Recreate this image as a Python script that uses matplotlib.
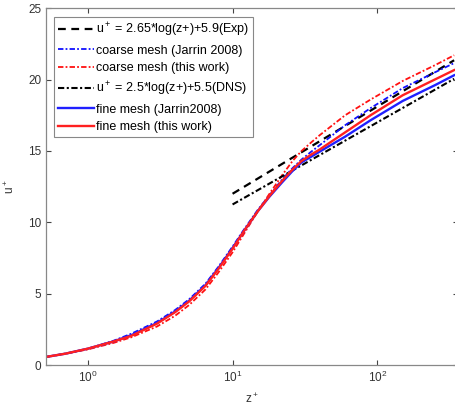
import numpy as np
import matplotlib
matplotlib.use("Agg")
from matplotlib import pyplot as plt

plt.rcParams['font.family'] = ['Liberation Sans', 'DejaVu Sans']
plt.rcParams['mathtext.fontset'] = 'custom'
plt.rcParams['mathtext.rm'] = 'Liberation Sans'
plt.rcParams['mathtext.it'] = 'Liberation Sans:italic'

# log laws (read at both ends of the drawn segment)
z_law = [10, 340]
u_exp = [12.0, 21.35]
u_dns = [11.25, 20.05]

# profiles
z_prof = [0.5, 0.7, 1, 1.5, 2, 3, 4, 5, 6.5, 8, 10, 12, 15, 18, 22, 26, 30, 35, 40, 60, 90, 150, 250, 340]
u_coarse_jarrin = [0.55, 0.8, 1.15, 1.7, 2.2, 3.05, 3.85, 4.6, 5.7, 6.9, 8.3, 9.5, 10.9, 11.9, 13.0, 13.8, 14.4, 14.95, 15.4, 16.8, 18.0, 19.4, 20.5, 21.15]
u_coarse_this = [0.55, 0.8, 1.1, 1.55, 1.95, 2.7, 3.45, 4.2, 5.3, 6.5, 7.9, 9.2, 10.8, 12.0, 13.3, 14.3, 15.0, 15.6, 16.1, 17.5, 18.6, 19.9, 21.0, 21.7]
u_fine_jarrin = [0.55, 0.8, 1.15, 1.65, 2.1, 2.95, 3.75, 4.5, 5.6, 6.8, 8.2, 9.4, 10.8, 11.8, 12.8, 13.6, 14.2, 14.6, 14.95, 16.0, 17.15, 18.5, 19.6, 20.3]
u_fine_this = [0.55, 0.8, 1.15, 1.65, 2.05, 2.9, 3.7, 4.45, 5.55, 6.75, 8.15, 9.4, 10.8, 11.85, 12.9, 13.7, 14.3, 14.75, 15.1, 16.3, 17.5, 18.9, 20.0, 20.66]

fig = plt.figure(figsize=(4.55, 4.07), dpi=100)
ax = fig.add_axes([0.101, 0.103, 0.905, 0.877])

ax.plot(z_law, u_exp, color='k', ls=(0, (3.5, 2.5)), lw=1.6, label='u$^+$ = 2.65*log(z+)+5.9(Exp)')
ax.plot(z_prof, u_coarse_jarrin, color='#1010ff', ls=(0, (3, 1.2, 1, 1.2)), lw=1.3, label='coarse mesh (Jarrin 2008)')
ax.plot(z_prof, u_coarse_this, color='#ff1010', ls=(0, (3, 1.2, 1, 1.2)), lw=1.3, label='coarse mesh (this work)')
ax.plot(z_law, u_dns, color='k', ls=(0, (3, 1.2, 1, 1.2)), lw=1.5, label='u$^+$ = 2.5*log(z+)+5.5(DNS)')
ax.plot(z_prof, u_fine_jarrin, color='#2020ff', ls='-', lw=1.7, label='fine mesh (Jarrin2008)')
ax.plot(z_prof, u_fine_this, color='#ff2020', ls='-', lw=1.7, label='fine mesh (this work)')

ax.set_xscale('log')
ax.set_xlim(0.513, 360)
ax.set_ylim(0, 25)
ax.set_yticks([0, 5, 10, 15, 20, 25])
ax.minorticks_off()
ax.tick_params(direction='in', length=3.5, top=True, right=True, labelsize=8.5,
               colors='#444444', labelcolor='#333333')
for s in ax.spines.values():
    s.set_color('#888888')
    s.set_linewidth(0.9)

ax.set_xlabel('z$^+$', fontsize=8.5, color='#333333', labelpad=5)
ax.set_ylabel('u$^+$', fontsize=8.5, color='#333333', labelpad=8)

leg = ax.legend(loc='upper left', bbox_to_anchor=(0.02, 0.975), fontsize=9,
                handlelength=2.9, handletextpad=0.15, labelspacing=0.45,
                borderpad=0.3, borderaxespad=0.0, fancybox=False, framealpha=1)
leg.get_frame().set_edgecolor('#888888')
leg.get_frame().set_linewidth(0.8)

fig.savefig('out.png', dpi=100)
